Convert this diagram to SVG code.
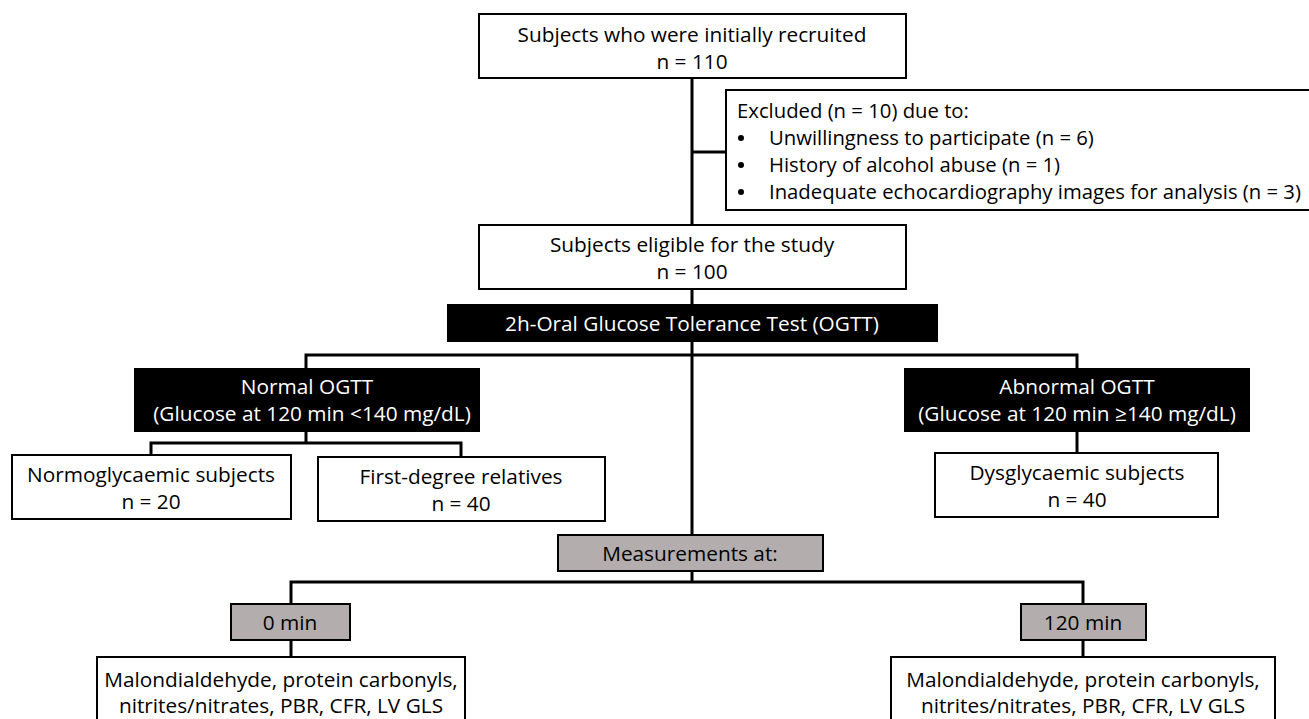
<svg xmlns="http://www.w3.org/2000/svg" width="1309" height="719" viewBox="0 0 1309 719">
<style>
.box{fill:#fff;stroke:#000;stroke-width:2}
.dark{fill:#000;stroke:#000;stroke-width:2}
.grey{fill:#b3adad;stroke:#000;stroke-width:2}
.t{font-family:"Open Sans",Lato,sans-serif;font-size:20.8px;fill:#000;text-anchor:middle;dominant-baseline:central}
.tl{font-family:"Open Sans",Lato,sans-serif;font-size:20.3px;fill:#000;dominant-baseline:central}
.w{fill:#fff}
.dot{fill:#000}
.c{fill:none;stroke:#000;stroke-width:3}
</style>
<rect width="1309" height="719" fill="#fff"/>
<g id="connectors">
<path class="c" d="M692 78V537"/>
<path class="c" d="M692 152H726"/>
<path class="c" d="M306 369V355H1077V369"/>
<path class="c" d="M306 431V443M151 455V443H461V457"/>
<path class="c" d="M1077 431V453"/>
<path class="c" d="M692 571V582M291 604V582H1083V604"/>
<path class="c" d="M291 640V657M1083 640V657"/>
</g>
<g id="recruited">
<rect class="box" x="479" y="14" width="427" height="64"/>
<text class="t" x="692" y="34">Subjects who were initially recruited</text>
<text class="t" x="692" y="61">n = 110</text>
</g>
<g id="excluded">
<rect class="box" x="726" y="90" width="600" height="120"/>
<text class="tl" x="737" y="110">Excluded (n = 10) due to:</text>
<circle class="dot" cx="741" cy="138" r="3"/>
<text class="tl" x="769" y="137">Unwillingness to participate (n = 6)</text>
<circle class="dot" cx="741" cy="165" r="3"/>
<text class="tl" x="769" y="164">History of alcohol abuse (n = 1)</text>
<circle class="dot" cx="741" cy="192" r="3"/>
<text class="tl" x="769" y="191">Inadequate echocardiography images for analysis (n = 3)</text>
</g>
<g id="eligible">
<rect class="box" x="479" y="225" width="427" height="64"/>
<text class="t" x="692" y="244">Subjects eligible for the study</text>
<text class="t" x="692" y="271">n = 100</text>
</g>
<g id="ogtt">
<rect class="dark" x="448" y="305" width="489" height="36"/>
<text class="t w" x="692" y="323">2h-Oral Glucose Tolerance Test (OGTT)</text>
</g>
<g id="normal">
<rect class="dark" x="135" y="369" width="344" height="62"/>
<text class="t w" x="307" y="386">Normal OGTT</text>
<text class="t w" x="312" y="413">(Glucose at 120 min &lt;140 mg/dL)</text>
</g>
<g id="abnormal">
<rect class="dark" x="905" y="369" width="344" height="62"/>
<text class="t w" x="1077" y="386">Abnormal OGTT</text>
<text class="t w" x="1077" y="413">(Glucose at 120 min ≥140 mg/dL)</text>
</g>
<g id="normoglycaemic">
<rect class="box" x="12" y="455" width="279" height="64"/>
<text class="t" x="151" y="474">Normoglycaemic subjects</text>
<text class="t" x="151" y="501">n = 20</text>
</g>
<g id="relatives">
<rect class="box" x="318" y="457" width="287" height="64"/>
<text class="t" x="461" y="476">First-degree relatives</text>
<text class="t" x="461" y="503">n = 40</text>
</g>
<g id="dysglycaemic">
<rect class="box" x="935" y="453" width="283" height="64"/>
<text class="t" x="1077" y="472">Dysglycaemic subjects</text>
<text class="t" x="1077" y="499">n = 40</text>
</g>
<g id="measurements">
<rect class="grey" x="558" y="535" width="265" height="36"/>
<text class="t" x="690" y="553">Measurements at:</text>
</g>
<g id="min0">
<rect class="grey" x="231" y="604" width="119" height="36"/>
<text class="t" x="290" y="622">0 min</text>
</g>
<g id="min120">
<rect class="grey" x="1021" y="604" width="125" height="36"/>
<text class="t" x="1083" y="622">120 min</text>
</g>
<g id="markers0">
<rect class="box" x="97" y="657" width="368" height="80"/>
<text class="t" x="281" y="679">Malondialdehyde, protein carbonyls,</text>
<text class="t" x="281" y="705">nitrites/nitrates, PBR, CFR, LV GLS</text>
</g>
<g id="markers120">
<rect class="box" x="891" y="657" width="384" height="80"/>
<text class="t" x="1083" y="679">Malondialdehyde, protein carbonyls,</text>
<text class="t" x="1083" y="705">nitrites/nitrates, PBR, CFR, LV GLS</text>
</g>
</svg>
